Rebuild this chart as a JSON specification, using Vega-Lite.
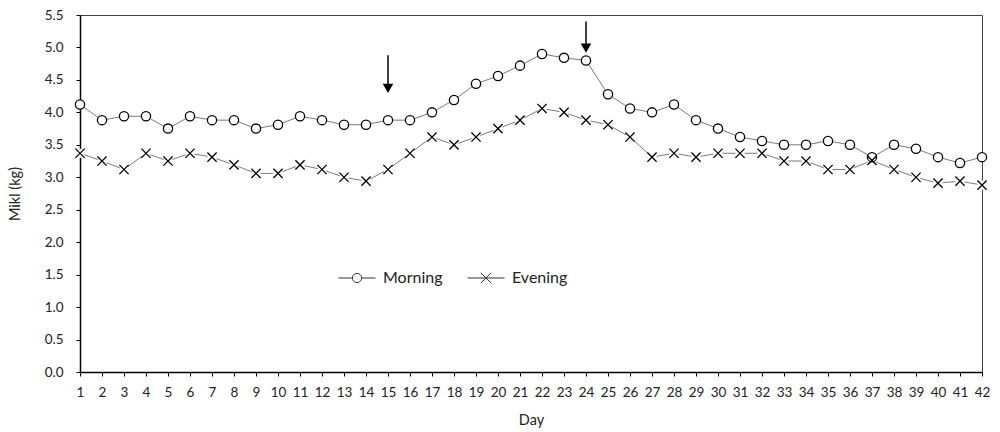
{
  "$schema": "https://vega.github.io/schema/vega-lite/v6.json",
  "autosize": {"type": "none"},
  "width": 902,
  "height": 357,
  "padding": {"left": 80, "top": 15, "right": 18, "bottom": 60},
  "background": "white",
  "config": {
    "font": "Lato",
    "view": {"stroke": "#444", "strokeWidth": 1},
    "axis": {"grid": false, "domainColor": "black", "domainWidth": 1.5, "tickColor": "black", "tickSize": 4, "labelFont": "Lato", "labelFontSize": 13.5, "labelColor": "#222", "titleFont": "Lato", "titleFontSize": 14.5, "titleFontWeight": "normal", "titleColor": "#222"}
  },
  "datasets": {
    "milk": [
      {"day": 1, "series": "Morning", "milk": 4.12}, {"day": 2, "series": "Morning", "milk": 3.88}, {"day": 3, "series": "Morning", "milk": 3.94}, {"day": 4, "series": "Morning", "milk": 3.94}, {"day": 5, "series": "Morning", "milk": 3.75}, {"day": 6, "series": "Morning", "milk": 3.94}, {"day": 7, "series": "Morning", "milk": 3.88}, {"day": 8, "series": "Morning", "milk": 3.88}, {"day": 9, "series": "Morning", "milk": 3.75}, {"day": 10, "series": "Morning", "milk": 3.81}, {"day": 11, "series": "Morning", "milk": 3.94}, {"day": 12, "series": "Morning", "milk": 3.88}, {"day": 13, "series": "Morning", "milk": 3.81}, {"day": 14, "series": "Morning", "milk": 3.81}, {"day": 15, "series": "Morning", "milk": 3.88}, {"day": 16, "series": "Morning", "milk": 3.88}, {"day": 17, "series": "Morning", "milk": 4.0}, {"day": 18, "series": "Morning", "milk": 4.19}, {"day": 19, "series": "Morning", "milk": 4.44}, {"day": 20, "series": "Morning", "milk": 4.56}, {"day": 21, "series": "Morning", "milk": 4.72}, {"day": 22, "series": "Morning", "milk": 4.9}, {"day": 23, "series": "Morning", "milk": 4.84}, {"day": 24, "series": "Morning", "milk": 4.8}, {"day": 25, "series": "Morning", "milk": 4.28}, {"day": 26, "series": "Morning", "milk": 4.06}, {"day": 27, "series": "Morning", "milk": 4.0}, {"day": 28, "series": "Morning", "milk": 4.12}, {"day": 29, "series": "Morning", "milk": 3.88}, {"day": 30, "series": "Morning", "milk": 3.75}, {"day": 31, "series": "Morning", "milk": 3.62}, {"day": 32, "series": "Morning", "milk": 3.56}, {"day": 33, "series": "Morning", "milk": 3.5}, {"day": 34, "series": "Morning", "milk": 3.5}, {"day": 35, "series": "Morning", "milk": 3.56}, {"day": 36, "series": "Morning", "milk": 3.5}, {"day": 37, "series": "Morning", "milk": 3.31}, {"day": 38, "series": "Morning", "milk": 3.5}, {"day": 39, "series": "Morning", "milk": 3.44}, {"day": 40, "series": "Morning", "milk": 3.31}, {"day": 41, "series": "Morning", "milk": 3.22}, {"day": 42, "series": "Morning", "milk": 3.31},
      {"day": 1, "series": "Evening", "milk": 3.37}, {"day": 2, "series": "Evening", "milk": 3.25}, {"day": 3, "series": "Evening", "milk": 3.12}, {"day": 4, "series": "Evening", "milk": 3.37}, {"day": 5, "series": "Evening", "milk": 3.25}, {"day": 6, "series": "Evening", "milk": 3.37}, {"day": 7, "series": "Evening", "milk": 3.31}, {"day": 8, "series": "Evening", "milk": 3.19}, {"day": 9, "series": "Evening", "milk": 3.06}, {"day": 10, "series": "Evening", "milk": 3.06}, {"day": 11, "series": "Evening", "milk": 3.19}, {"day": 12, "series": "Evening", "milk": 3.12}, {"day": 13, "series": "Evening", "milk": 3.0}, {"day": 14, "series": "Evening", "milk": 2.94}, {"day": 15, "series": "Evening", "milk": 3.12}, {"day": 16, "series": "Evening", "milk": 3.37}, {"day": 17, "series": "Evening", "milk": 3.62}, {"day": 18, "series": "Evening", "milk": 3.5}, {"day": 19, "series": "Evening", "milk": 3.62}, {"day": 20, "series": "Evening", "milk": 3.75}, {"day": 21, "series": "Evening", "milk": 3.88}, {"day": 22, "series": "Evening", "milk": 4.06}, {"day": 23, "series": "Evening", "milk": 4.0}, {"day": 24, "series": "Evening", "milk": 3.88}, {"day": 25, "series": "Evening", "milk": 3.81}, {"day": 26, "series": "Evening", "milk": 3.62}, {"day": 27, "series": "Evening", "milk": 3.31}, {"day": 28, "series": "Evening", "milk": 3.37}, {"day": 29, "series": "Evening", "milk": 3.31}, {"day": 30, "series": "Evening", "milk": 3.37}, {"day": 31, "series": "Evening", "milk": 3.37}, {"day": 32, "series": "Evening", "milk": 3.37}, {"day": 33, "series": "Evening", "milk": 3.25}, {"day": 34, "series": "Evening", "milk": 3.25}, {"day": 35, "series": "Evening", "milk": 3.12}, {"day": 36, "series": "Evening", "milk": 3.12}, {"day": 37, "series": "Evening", "milk": 3.26}, {"day": 38, "series": "Evening", "milk": 3.12}, {"day": 39, "series": "Evening", "milk": 3.0}, {"day": 40, "series": "Evening", "milk": 2.91}, {"day": 41, "series": "Evening", "milk": 2.94}, {"day": 42, "series": "Evening", "milk": 2.88}
    ],
    "arrows": [
      {"day": 15, "top": 4.88, "shaftEnd": 4.42, "head": 4.37},
      {"day": 24, "top": 5.4, "shaftEnd": 5.04, "head": 4.99}
    ]
  },
  "encoding": {
    "x": {"field": "day", "type": "quantitative", "scale": {"domain": [1, 42], "nice": false, "zero": false}, "axis": {"values": [1,2,3,4,5,6,7,8,9,10,11,12,13,14,15,16,17,18,19,20,21,22,23,24,25,26,27,28,29,30,31,32,33,34,35,36,37,38,39,40,41,42], "tickCount": 100, "format": "d", "title": "Day", "labelPadding": 9, "titlePadding": 15, "labelFlush": false, "labelOverlap": false, "labelBound": false}},
    "y": {"field": "milk", "type": "quantitative", "scale": {"domain": [0, 5.5], "nice": false}, "axis": {"values": [0,0.5,1,1.5,2,2.5,3,3.5,4,4.5,5,5.5], "tickCount": 100, "format": ".1f", "title": "Mikl (kg)", "labelPadding": 13, "titlePadding": 22, "labelFlush": false, "labelOverlap": false, "labelBound": false}}
  },
  "layer": [
    {
      "data": {"name": "milk"},
      "mark": {"type": "line", "color": "#7a7a7a", "strokeWidth": 1},
      "encoding": {
        "detail": {"field": "series"}
      }
    },
    {
      "data": {"name": "milk"},
      "mark": {"type": "point", "shape": "circle", "filled": true, "color": "white", "size": 85, "opacity": 1},
      "encoding": {}
    },
    {
      "data": {"name": "milk"},
      "mark": {"type": "point", "filled": false, "color": "black", "strokeWidth": 1.3, "size": 85, "opacity": 1},
      "encoding": {
        "shape": {
          "field": "series", "type": "nominal",
          "scale": {"domain": ["Morning", "Evening"], "range": ["circle", "M-1,-1L1,1M-1,1L1,-1"]},
          "legend": null
        }
      }
    },
    {
      "data": {"name": "milk"},
      "transform": [{"filter": "datum.day == 1"}],
      "mark": {"type": "point", "filled": false, "color": "black", "strokeWidth": 1, "size": 0, "opacity": 1},
      "encoding": {
        "shape": {
          "field": "series", "type": "nominal",
          "scale": {"domain": ["Morning", "Evening"], "range": ["M-1,0H-0.25M0.25,0H1M-0.25,0A0.25,0.25 0 1 1 0.25,0A0.25,0.25 0 1 1 -0.25,0Z", "M-1,0H1M-0.28,-0.28L0.28,0.28M-0.28,0.28L0.28,-0.28"]},
          "legend": {
            "orient": "none", "legendX": 258, "legendY": 244, "direction": "horizontal", "title": null,
            "symbolSize": 1369, "symbolStrokeWidth": 1, "symbolStrokeColor": "#333",
            "labelFont": "Lato", "labelFontSize": 16, "labelColor": "#222", "labelOffset": 7, "columnPadding": 22
          }
        }
      }
    },
    {
      "data": {"name": "arrows"},
      "mark": {"type": "rule", "color": "black", "strokeWidth": 1.5},
      "encoding": {
        "y": {"field": "top", "type": "quantitative"},
        "y2": {"field": "shaftEnd"}
      }
    },
    {
      "data": {"name": "arrows"},
      "mark": {"type": "point", "shape": "triangle-down", "filled": true, "color": "black", "size": 110, "opacity": 1},
      "encoding": {
        "y": {"field": "head", "type": "quantitative"}
      }
    }
  ],
  "resolve": {"scale": {"shape": "independent"}, "legend": {"shape": "independent"}}
}
